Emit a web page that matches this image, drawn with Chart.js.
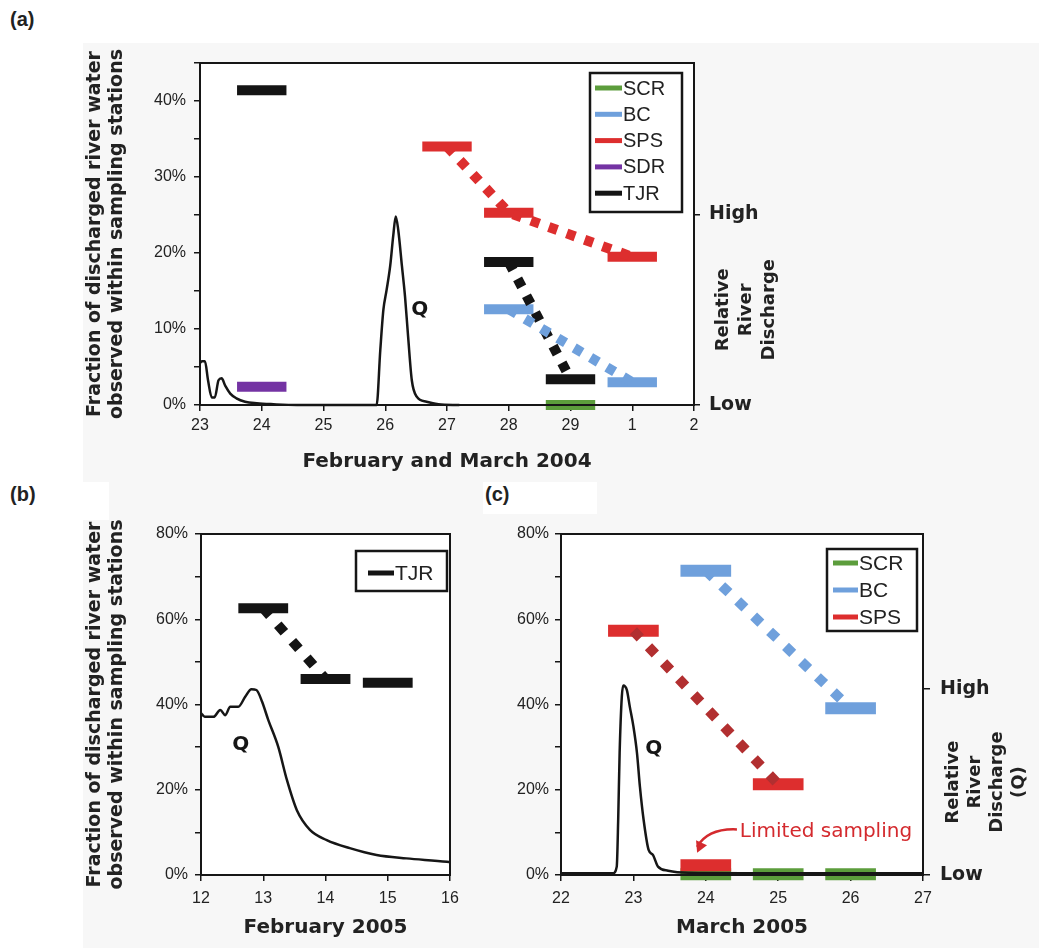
<!DOCTYPE html>
<html><head><meta charset="utf-8">
<script src="https://cdn.jsdelivr.net/npm/chart.js@4.4.1/dist/chart.umd.min.js"></script>
<style>
html,body{margin:0;padding:0;background:#fff;}
body{width:1039px;height:948px;position:relative;overflow:hidden;}
#bg{position:absolute;left:83px;top:43px;width:956px;height:905px;background:#f7f7f7;}
.wb{position:absolute;background:#fff;}
.pl{position:absolute;font:bold 20px 'Liberation Sans',Arial,sans-serif;color:#222;line-height:24px;}
canvas{position:absolute;}
</style></head><body>
<div id="bg"></div>
<div class="wb" style="left:0;top:482px;width:109px;height:38px"></div>
<div class="wb" style="left:483px;top:482px;width:114px;height:32px"></div>
<div class="pl" style="left:10px;top:7px">(a)</div>
<div class="pl" style="left:10px;top:482px">(b)</div>
<div class="pl" style="left:485px;top:482px">(c)</div>
<canvas id="ca" width="1039" height="480" style="left:0;top:0"></canvas>
<canvas id="cb" width="470" height="468" style="left:0;top:480px"></canvas>
<canvas id="cc" width="569" height="468" style="left:470px;top:480px"></canvas>
<script>
// ---------------- DATA ----------------
// Panel (a): x = days since 23 Feb 2004
const aDayLabels = ['23','24','25','26','27','28','29','1','2'];
const aQday = [0, 0.03, 0.08, 0.13, 0.19, 0.24, 0.30, 0.35, 0.41, 0.49, 0.59, 0.73, 0.92, 1.19, 1.57, 2.86, 2.92, 2.97, 3.02, 3.08, 3.13, 3.17, 3.21, 3.27, 3.32, 3.37, 3.43, 3.51, 3.67, 3.86, 4.2];
const aQrel = [0.22, 0.23, 0.23, 0.13, 0.04, 0.04, 0.13, 0.14, 0.10, 0.06, 0.035, 0.017, 0.009, 0.004, 0, 0, 0.29, 0.5, 0.6, 0.73, 0.89, 0.99, 0.92, 0.73, 0.57, 0.36, 0.13, 0.044, 0.017, 0.004, 0];
// sampling periods: [start, end, fraction %]
const aSCR = [[5.6, 6.4, 0.0]];
const aBC  = [[4.6, 5.4, 12.6], [6.6, 7.4, 3.0]];
const aSPS = [[3.6, 4.4, 34.0], [4.6, 5.4, 25.3], [6.6, 7.4, 19.5]];
const aSDR = [[0.6, 1.4, 2.4]];
const aTJR = [[0.6, 1.4, 41.4], [4.6, 5.4, 18.8], [5.6, 6.4, 3.4]];
const aTrendBC = [0, 1], aTrendSPS = [0, 1, 2], aTrendTJR = [1, 2];

// Panel (b): x = day of February 2005
const bDayLabels = ['12','13','14','15','16'];
const bQday = [12.0, 12.06, 12.2, 12.31, 12.39, 12.47, 12.6, 12.71, 12.81, 12.89, 12.98, 13.08, 13.24, 13.38, 13.54, 13.75, 14.02, 14.39, 14.82, 15.3, 15.95, 16.0];
const bQpct = [38.0, 37.1, 37.1, 38.7, 37.5, 39.5, 39.5, 41.8, 43.6, 43.4, 40.7, 36.4, 30.1, 22.3, 15.2, 10.6, 8.2, 6.3, 4.7, 3.9, 3.1, 3.0];
const bTJR = [[12.6, 13.4, 62.6], [13.6, 14.4, 46.0], [14.6, 15.4, 45.1]];
const bTrendTJR = [0, 1];

// Panel (c): x = day of March 2005
const cDayLabels = ['22','23','24','25','26','27'];
const cQday = [22.0, 22.72, 22.77, 22.79, 22.81, 22.84, 22.86, 22.91, 22.95, 23.0, 23.05, 23.09, 23.14, 23.21, 23.27, 23.34, 23.48, 23.76, 24.5, 25.5, 26.5, 27.0];
const cQrel = [0.01, 0.01, 0.045, 0.30, 0.66, 0.96, 1.02, 0.995, 0.906, 0.80, 0.655, 0.475, 0.30, 0.135, 0.108, 0.045, 0.023, 0.012, 0.01, 0.01, 0.01, 0.01];
const cSCR = [[23.65, 24.35, 0.2], [24.65, 25.35, 0.2], [25.65, 26.35, 0.2]];
const cBC  = [[23.65, 24.35, 71.4], [25.65, 26.35, 39.1]];
const cSPS = [[22.65, 23.35, 57.3], [24.65, 25.35, 21.3], [23.65, 24.35, 2.3]];
const cTrendBC = [0, 1], cTrendSPS = [0, 1];

// ---------------- STYLE ----------------
const SANS = "'Liberation Sans', Arial, sans-serif";
const WIDE = "'DejaVu Sans', sans-serif";
const INK = '#161616';
const COL = {SCR:'#5c9d3c', BC:'#6fa0dc', SPS:'#dd2e2e', SDR:'#7433a3', TJR:'#141414'};
const SPS_DARK = '#b22f30';

// ---------------- PLUGINS ----------------
const frame = {
  id:'frame',
  beforeDraw(chart){
    const a = chart.chartArea, ctx = chart.ctx;
    ctx.save(); ctx.fillStyle = '#fff'; ctx.fillRect(a.left, a.top, a.right-a.left, a.bottom-a.top); ctx.restore();
  },
  afterDraw(chart){
    const a = chart.chartArea, ctx = chart.ctx;
    ctx.save(); ctx.strokeStyle = INK; ctx.lineWidth = 2;
    ctx.strokeRect(a.left, a.top, a.right-a.left, a.bottom-a.top); ctx.restore();
  }
};
const boxLegend = {
  id:'boxLegend',
  afterDraw(chart, args, o){
    if (!o || !o.items) return;
    const a = chart.chartArea, ctx = chart.ctx;
    const x0 = a.right - o.right - o.width, y0 = a.top + o.top;
    ctx.save();
    ctx.fillStyle = '#fff'; ctx.fillRect(x0, y0, o.width, o.height);
    ctx.lineWidth = 2.5; ctx.strokeStyle = INK; ctx.strokeRect(x0, y0, o.width, o.height);
    ctx.font = o.font; ctx.textBaseline = 'middle'; ctx.textAlign = 'left';
    o.items.forEach((it, i) => {
      const y = y0 + o.first + i*o.step;
      ctx.strokeStyle = it.color; ctx.lineWidth = o.lineW; ctx.lineCap = 'butt';
      ctx.beginPath(); ctx.moveTo(x0+o.sx, y); ctx.lineTo(x0+o.sx+o.slen, y); ctx.stroke();
      ctx.fillStyle = '#222'; ctx.fillText(it.text, x0+o.tx, y+1);
    });
    ctx.restore();
  }
};
const notes = {
  id:'notes',
  afterDraw(chart, args, o){
    if (!o) return;
    const ctx = chart.ctx, sx = chart.scales.x;
    (o.texts||[]).forEach(t => {
      const ys = chart.scales[t.axis||'y'];
      ctx.save(); ctx.font = t.font; ctx.fillStyle = t.color; ctx.textAlign = t.align||'center'; ctx.textBaseline = 'middle';
      ctx.fillText(t.text, sx.getPixelForValue(t.x), ys.getPixelForValue(t.y)); ctx.restore();
    });
    (o.arrows||[]).forEach(ar => {
      const ys = chart.scales.y;
      const p = ar.pts.map(q => [sx.getPixelForValue(q[0]), ys.getPixelForValue(q[1])]);
      ctx.save(); ctx.strokeStyle = ar.color; ctx.fillStyle = ar.color; ctx.lineWidth = 2.5;
      ctx.beginPath(); ctx.moveTo(p[0][0], p[0][1]); ctx.quadraticCurveTo(p[1][0], p[1][1], p[2][0], p[2][1]-6); ctx.stroke();
      const ang = Math.atan2(p[2][1]-p[1][1], p[2][0]-p[1][0]);
      const L = 11, W = 6;
      ctx.beginPath(); ctx.moveTo(p[2][0], p[2][1]);
      ctx.lineTo(p[2][0]-L*Math.cos(ang)+W*Math.sin(ang), p[2][1]-L*Math.sin(ang)-W*Math.cos(ang));
      ctx.lineTo(p[2][0]-L*Math.cos(ang)-W*Math.sin(ang), p[2][1]-L*Math.sin(ang)+W*Math.cos(ang));
      ctx.closePath(); ctx.fill(); ctx.restore();
    });
    if (o.rightTitle) {
      const r = o.rightTitle, q = chart.scales.y2;
      const cy = (q.getPixelForValue(0) + q.getPixelForValue(1)) / 2;
      ctx.save(); ctx.font = r.font; ctx.fillStyle = '#222'; ctx.textAlign = 'center'; ctx.textBaseline = 'middle';
      r.lines.forEach((ln, i) => {
        ctx.save(); ctx.translate(q.left + r.first + i*r.dx, cy); ctx.rotate(-Math.PI/2); ctx.fillText(ln, 0, 0); ctx.restore();
      });
      ctx.restore();
    }
  }
};
Chart.register(frame, boxLegend, notes);

// ---------------- BUILDERS ----------------
function barSets(name, periods, width, color){
  return periods.map(p => ({label:name, data:[{x:p[0], y:p[2]}, {x:p[1], y:p[2]}], borderColor:color, backgroundColor:color,
    borderWidth:width, borderCapStyle:'butt', pointRadius:0, clip:false, order:3}));
}
function trendSet(name, periods, idx, width, dash, color){
  return {label:name+' trend', data:idx.map(i => ({x:(periods[i][0]+periods[i][1])/2, y:periods[i][2]})), borderColor:color,
    borderWidth:width, borderDash:dash, borderCapStyle:'butt', pointRadius:0, clip:false, order:2};
}
function qSet(xs, ys, axis){
  return {label:'Q', data:xs.map((x, i) => ({x, y:ys[i]})), yAxisID:axis, borderColor:INK, borderWidth:2.5,
    pointRadius:0, cubicInterpolationMode:'monotone', clip:false, order:1};
}
function xScale(min, max, labels, title, h, tp, pb){
  return {type:'linear', min, max, afterFit:s => { s.height = h; },
    ticks:{stepSize:1, autoSkip:false, maxRotation:0, padding:tp, color:'#222', font:{family:SANS, size:16}, callback:v => labels[Math.round(v-min)]},
    grid:{drawOnChartArea:false, drawTicks:true, tickLength:6, color:INK, lineWidth:1.5},
    border:{display:false},
    title:{display:true, text:title, color:'#222', font:{family:WIDE, weight:'bold', size:20, lineHeight:1.2}, padding:{top:0, bottom:pb}}};
}
const YTITLE = ['Fraction of discharged river water', 'observed within sampling stations'];
function yScale(max, step, labelStep, width, pad, withTitle){
  return {position:'left', min:0, max, afterFit:s => { s.width = width; },
    ticks:{stepSize:step, autoSkip:false, padding:pad, color:'#222', font:{family:SANS, size:16}, callback:v => (v % labelStep === 0 ? v + '%' : '')},
    grid:{drawOnChartArea:false, tickLength:6, color:INK, lineWidth:1.5},
    border:{display:false},
    title:{display:withTitle, text:YTITLE, color:'#222', font:{family:WIDE, weight:'bold', size:19, lineHeight:1.16}, padding:{top:0, bottom:0}}};
}
function qScale(max, width, pad, tl){
  return {position:'right', min:0, max, afterFit:s => { s.width = width; },
    afterBuildTicks:s => { s.ticks = [{value:0}, {value:1}]; },
    ticks:{padding:pad, autoSkip:false, color:'#222', font:{family:WIDE, weight:'bold', size:19}, callback:v => (v === 1 ? 'High' : (v === 0 ? 'Low' : ''))},
    grid:{drawOnChartArea:false, tickLength:tl, color:INK, lineWidth:1.5},
    border:{display:false}};
}
const base = {responsive:false, animation:false, events:[], maintainAspectRatio:false};

// ---------------- PANEL (a) ----------------
const dsA = [].concat(
  [qSet(aQday, aQrel, 'y2')],
  [trendSet('SPS', aSPS, aTrendSPS, 10, [9, 10], COL.SPS), trendSet('BC', aBC, aTrendBC, 10, [9, 10], COL.BC), trendSet('TJR', aTJR, aTrendTJR, 10, [9, 10], COL.TJR)],
  barSets('SCR', aSCR, 10, COL.SCR), barSets('BC', aBC, 10, COL.BC), barSets('SPS', aSPS, 10, COL.SPS),
  barSets('SDR', aSDR, 10, COL.SDR), barSets('TJR', aTJR, 10, COL.TJR)
);
new Chart(document.getElementById('ca'), {type:'line', data:{datasets:dsA}, options:Object.assign({}, base, {
  layout:{padding:{left:84, top:63, right:0, bottom:0}},
  plugins:{legend:{display:false}, tooltip:{enabled:false},
    boxLegend:{items:['SCR','BC','SPS','SDR','TJR'].map(n => ({text:n, color:COL[n]})), right:12, top:10, width:92, height:139,
      first:15, step:26.3, sx:5, slen:27, tx:33, lineW:5, font:'20px ' + SANS},
    notes:{texts:[{text:'Q', x:3.56, y:12.5, font:'bold 20px ' + WIDE, color:INK}],
      rightTitle:{lines:['Relative','River','Discharge'], first:29, dx:23, font:'bold 18px ' + WIDE}}},
  scales:{x:xScale(0, 8, aDayLabels, 'February and March 2004', 75, 5, 6),
    y:yScale(45, 5, 10, 116, 8, true),
    y2:qScale(1.795, 345, 9, 6)}
})});

// ---------------- PANEL (b) ----------------
const dsB = [].concat(
  [qSet(bQday, bQpct, 'y')],
  [trendSet('TJR', bTJR, bTrendTJR, 10, [10, 12], COL.TJR)],
  barSets('TJR', bTJR, 10, COL.TJR)
);
new Chart(document.getElementById('cb'), {type:'line', data:{datasets:dsB}, options:Object.assign({}, base, {
  layout:{padding:{left:84, top:54, right:20, bottom:0}},
  plugins:{legend:{display:false}, tooltip:{enabled:false},
    boxLegend:{items:[{text:'TJR', color:COL.TJR}], right:3, top:17, width:91, height:40, first:22, step:27, sx:12, slen:26, tx:39, lineW:5, font:'21px ' + SANS},
    notes:{texts:[{text:'Q', x:12.64, y:30.5, font:'bold 20px ' + WIDE, color:INK}]}},
  scales:{x:xScale(12, 16, bDayLabels, 'February 2005', 73, 8, 8),
    y:yScale(80, 10, 20, 117, 7, true)}
})});

// ---------------- PANEL (c) ----------------
const dsC = [].concat(
  [qSet(cQday, cQrel, 'y2')],
  [trendSet('SPS', cSPS, cTrendSPS, 10, [10, 12], SPS_DARK), trendSet('BC', cBC, cTrendBC, 10, [10, 12], COL.BC)],
  barSets('SPS', cSPS, 12, COL.SPS), barSets('BC', cBC, 12, COL.BC), barSets('SCR', cSCR, 12, COL.SCR)
);
new Chart(document.getElementById('cc'), {type:'line', data:{datasets:dsC}, options:Object.assign({}, base, {
  layout:{padding:{left:0, top:54, right:0, bottom:0}},
  plugins:{legend:{display:false}, tooltip:{enabled:false},
    boxLegend:{items:['SCR','BC','SPS'].map(n => ({text:n, color:COL[n]})), right:6, top:15, width:90, height:82,
      first:14, step:27, sx:6, slen:25, tx:32, lineW:5, font:'21px ' + SANS},
    notes:{texts:[{text:'Q', x:23.28, y:29.5, font:'bold 20px ' + WIDE, color:INK},
                  {text:'Limited sampling', x:24.47, y:10.2, font:'20px ' + WIDE, color:'#d42a2e', align:'left'}],
      arrows:[{pts:[[24.43, 10.7], [24.03, 11.0], [23.88, 5.2]], color:'#d42a2e'}],
      rightTitle:{lines:['Relative','River','Discharge','(Q)'], first:30, dx:22, font:'bold 18px ' + WIDE}}},
  scales:{x:xScale(22, 27, cDayLabels, 'March 2005', 73, 8, 8),
    y:yScale(80, 10, 20, 91, 6, false),
    y2:qScale(1.835, 116, 10, 7)}
})});
</script>
</body></html>
